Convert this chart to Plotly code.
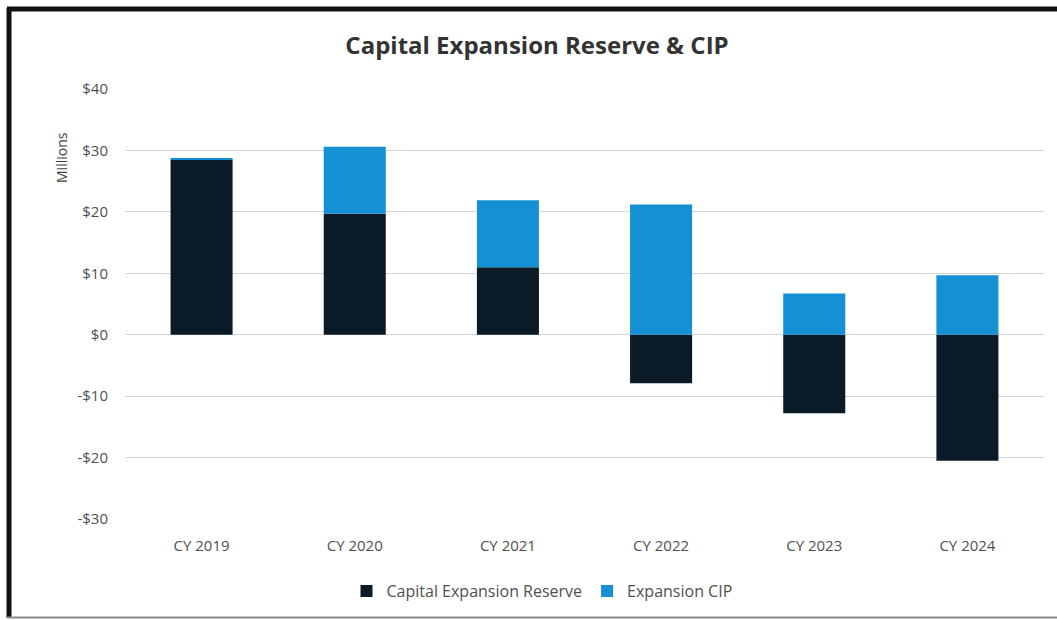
import plotly.graph_objects as go

# Calendar years and balances (in $ millions)
years = ["CY 2019", "CY 2020", "CY 2021", "CY 2022", "CY 2023", "CY 2024"]
reserve = [28.5, 19.7, 11.0, -7.9, -12.8, -20.5]
cip = [0.2, 10.9, 10.9, 21.2, 6.7, 9.7]
y_ticks = [-30, -20, -10, 0, 10, 20, 30, 40]
y_tick_labels = ["-$30", "-$20", "-$10", "$0", "$10", "$20", "$30", "$40"]

DARK = "#0b1a27"
BLUE = "#1590d4"
FONT = "Open Sans"

# Plot area in pixels
plot_l, plot_r, plot_t, plot_b = 125, 1057 - 13, 89, 620 - 101
pw, ph = plot_r - plot_l, plot_b - plot_t


def px(x):
    return (x - plot_l) / pw


def py(y):
    return (plot_b - y) / ph


fig = go.Figure()
fig.add_trace(go.Bar(x=years, y=reserve, name="Capital Expansion Reserve",
                     marker=dict(color=DARK, line=dict(width=0))))
fig.add_trace(go.Bar(x=years, y=cip, name="Expansion CIP",
                     marker=dict(color=BLUE, line=dict(width=0))))

fig.update_layout(
    width=1057, height=620,
    barmode="relative",
    bargap=0.595,
    paper_bgcolor="white",
    plot_bgcolor="white",
    margin=dict(l=plot_l, r=1057 - plot_r, t=plot_t, b=620 - plot_b),
    font=dict(family=FONT, color="#595959"),
    title=dict(text="<b>Capital Expansion Reserve & CIP</b>",
               x=(537 / 1057), xanchor="center", y=1 - 46 / 620, yanchor="middle",
               font=dict(family=FONT, size=24, color="#333333")),
    xaxis=dict(showgrid=False, showline=False, zeroline=False,
               tickfont=dict(size=15, color="#505050"), ticklabelstandoff=16),
    yaxis=dict(range=[-30, 40], tickvals=y_ticks, ticktext=y_tick_labels,
               showgrid=True, gridcolor="#d6d6d6", gridwidth=1,
               zeroline=True, zerolinecolor="#d6d6d6", zerolinewidth=1,
               showline=False, tickfont=dict(size=15, color="#505050"),
               ticklabelstandoff=16),
    legend=dict(orientation="h", x=px(542), xanchor="center", y=py(591), yanchor="middle",
                font=dict(size=16, color="#505050"), traceorder="normal",
                itemwidth=30, entrywidth=0),
    showlegend=True,
)

fig.add_annotation(text="Millions", textangle=-90, x=px(50), y=py(130),
                   xref="paper", yref="paper", showarrow=False,
                   font=dict(size=14, color="#404040"))

# Outer frame
fig.add_shape(type="line", xref="paper", yref="paper", x0=px(9), x1=px(9), y0=py(8), y1=py(618),
              line=dict(color="#111111", width=5))
fig.add_shape(type="line", xref="paper", yref="paper", x0=px(7), x1=px(1060), y0=py(9), y1=py(9),
              line=dict(color="#111111", width=5))
fig.add_shape(type="line", xref="paper", yref="paper", x0=px(7), x1=px(1060), y0=py(617.5), y1=py(617.5),
              line=dict(color="#8a8a8a", width=2))

fig.write_html("out.html")
